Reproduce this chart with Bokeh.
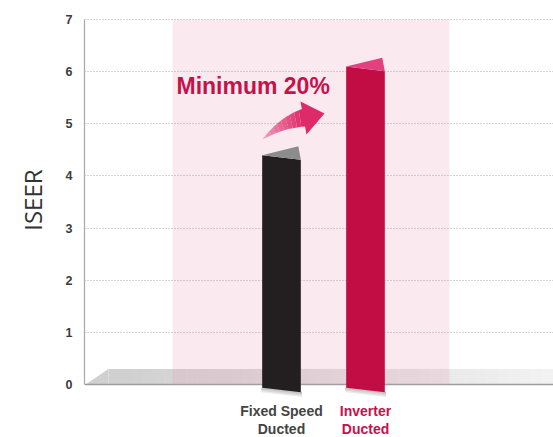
import math
from bokeh.plotting import figure
from bokeh.layouts import row
from bokeh.models import Range1d, FixedTicker, ColumnDataSource
from bokeh.core.properties import value
from bokeh.embed import file_html
from bokeh.resources import INLINE

# ---- data ----
categories = ["Fixed Speed\nDucted", "Inverter\nDucted"]
iseer = [4.4, 6.1]
y_ticks = [0, 1, 2, 3, 4, 5, 6, 7]
headline = "Minimum 20%"
y_title = "ISEER"

# ---- style ----
front_colors = ["#231f20", "#c20d44"]
top_colors = ["#8c8c8c", "#e2407e"]
label_colors = ["#444444", "#c8104a"]
x_pos = [1, 2]
bar_w = 0.46

# left strip with the axis title
t = figure(width=50, height=437, x_range=Range1d(0, 50), y_range=Range1d(0, 437),
           min_border=0, toolbar_location=None, output_backend="svg",
           x_axis_location=None, y_axis_location=None)
t.outline_line_color = None
t.xgrid.visible = False
t.ygrid.visible = False
t.text(x=[32], y=[437 - 190], text=[y_title], angle=math.pi / 2, text_font=value("Open Sans"),
       text_font_size="24px", text_color="#333333", text_align="center", text_baseline="middle")

p = figure(width=503, height=437, x_range=Range1d(-1.345, 4.238), y_range=Range1d(-1.016, 7.04),
           min_border_left=34, min_border_right=0, min_border_top=17, min_border_bottom=0,
           toolbar_location=None, output_backend="svg", x_axis_location=None)
p.outline_line_color = None
p.background_fill_color = "white"
p.border_fill_color = "white"

yax = p.yaxis[0]
yax.ticker = FixedTicker(ticks=y_ticks)
yax.bounds = (0, 7)
yax.axis_line_color = "#a8a8a8"
yax.axis_line_width = 1.2
yax.major_tick_line_color = None
yax.minor_tick_line_color = None
yax.major_label_standoff = 6
yax.major_label_text_font = "Liberation Sans"
yax.major_label_text_font_style = "bold"
yax.major_label_text_font_size = "12.5px"
yax.major_label_text_color = "#3c3c3c"

p.xgrid.visible = False
p.ygrid.grid_line_color = "#a8a8a8"
p.ygrid.grid_line_dash = "1 2"
p.ygrid.grid_line_width = 1

# helpers: pixel -> data (decoration only)
def dx(px):
    return (px - 281) / 84 + 1

def dy(py):
    return (384 - py) / 52.14

# ---- floor (gradient) ----
fl_top = 0.3
x_end = 4.238
p.patch([-1.333, -1.06, -1.06, -1.333], [0, fl_top, 0, 0], color="#d0d0d0", line_color=None)
n = 40
xs0 = -1.06
step = (x_end - xs0) / n
for i in range(n):
    f = i / (n - 1)
    g = int(208 + (242 - 208) * f)
    c = "#%02x%02x%02x" % (g, g, g)
    p.quad(left=xs0 + i * step, right=xs0 + (i + 1) * step + 0.005, bottom=0, top=fl_top,
           color=c, line_color=None)
p.line(x=[-1.345, x_end], y=[0, 0], line_color="#9e9e9e", line_width=1.5)

# ---- highlight band ----
p.quad(left=-0.298, right=3.0, bottom=0, top=7, fill_color="#e896b4", fill_alpha=0.2, line_color=None)

# ---- bars (3D ribbon look) ----
for xc, v, fc, tc in zip(x_pos, iseer, front_colors, top_colors):
    l, r = xc - bar_w / 2, xc + bar_w / 2
    for k, a in enumerate([0.12, 0.12, 0.12]):
        d = 0.03 * (k + 1)
        p.patch([l - 0.01, r + 0.015, r + 0.015, l - 0.01],
                [-0.05, -0.14, -0.15 - d, -0.06 - d], color="#555555", alpha=a, line_color=None)
    p.patch([l, r, r, l], [v, v - 0.09, -0.15, -0.06], color=fc, line_color=None)
    p.patch([l, r - 0.03, r], [v, v + 0.17, v - 0.09], color=tc, line_color=None)

# ---- curved arrow ----
def bez(p0, p1, p2, s):
    return ((1 - s) ** 2 * p0[0] + 2 * (1 - s) * s * p1[0] + s ** 2 * p2[0],
            (1 - s) ** 2 * p0[1] + 2 * (1 - s) * s * p1[1] + s ** 2 * p2[1])

up = [(262, 139), (279, 116), (303, 108)]
lo = [(262, 139), (284, 127), (305, 126)]
segs = 10
for i in range(segs):
    s0, s1 = i / segs, (i + 1) / segs
    pts = [bez(*up, s0), bez(*up, s1), bez(*lo, s1), bez(*lo, s0)]
    p.patch([dx(a) for a, b in pts], [dy(b) for a, b in pts], color="#df2a6a",
            alpha=0.35 + 0.65 * (i + 1) / segs, line_color=None)
head = [(300, 101), (324, 113), (306, 134)]
p.patch([dx(a) for a, b in head], [dy(b) for a, b in head], color="#df2a6a", line_color=None)

# ---- texts ----
p.text(x=[dx(176)], y=[dy(85.5)], text=[headline], text_font=value("Liberation Sans"),
       text_font_style="bold", text_font_size="23px", text_color="#c8104a",
       text_align="left", text_baseline="alphabetic")

src = ColumnDataSource(dict(x=x_pos, y=[dy(419.5)] * 2, text=categories, color=label_colors))
p.text(x="x", y="y", text="text", text_color="color", source=src,
       text_font=value("Liberation Sans"), text_font_style="bold", text_font_size="14px",
       text_align="center", text_baseline="middle", text_line_height=1.15)

layout = row(t, p, spacing=0)
open("out.html", "w").write(file_html(layout, INLINE))
